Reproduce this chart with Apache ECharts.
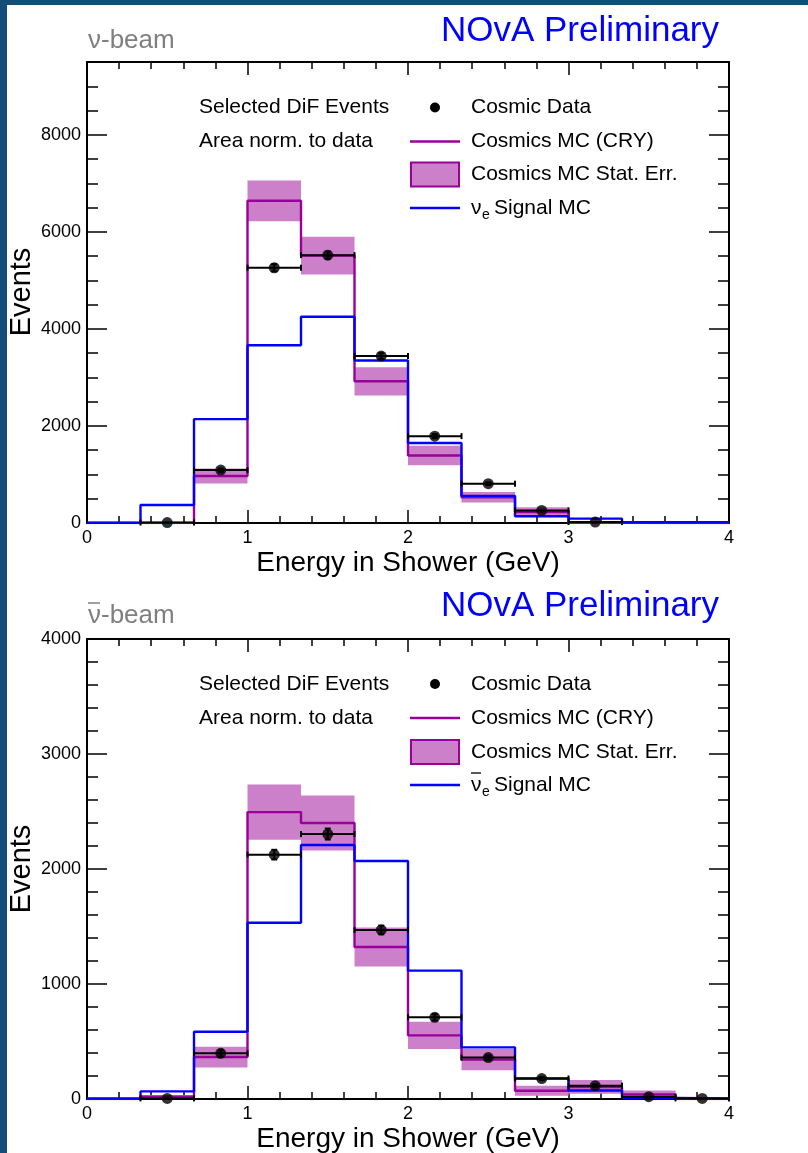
<!DOCTYPE html>
<html>
<head>
<meta charset="utf-8">
<title>NOvA DiF shower energy</title>
<script src="https://cdn.jsdelivr.net/npm/echarts@6/dist/echarts.min.js"></script>
<style>
html, body { margin: 0; padding: 0; }
#chart { width: 808px; height: 1153px; }
</style>
</head>
<body>
<div id="chart"></div>
<script>
// bin edges in GeV (12 bins of 1/3 GeV)
var binEdges = [0, 0.3333, 0.6667, 1, 1.3333, 1.6667, 2, 2.3333, 2.6667, 3, 3.3333, 3.6667, 4];

// nu-beam panel
var nuData       = [null, 10, 1090, 5260, 5520, 3440, 1790, 810, 260, 20, null, null];
var nuDataErr    = [0, 5, 33, 73, 74, 59, 42, 28, 16, 5, 0, 0];
var nuCosmicMC   = [0, 5, 970, 6640, 5510, 2920, 1390, 530, 225, 5, 0, 0];
var nuCosmicErr  = [0, 5, 155, 420, 390, 290, 200, 110, 100, 5, 0, 0];
var nuSignal     = [5, 370, 2140, 3663, 4250, 3350, 1650, 560, 140, 90, 15, 15];

// nubar-beam panel
var nubarData      = [null, 5, 397, 2125, 2304, 1470, 710, 360, 178, 116, 20, 5];
var nubarDataErr   = [0, 5, 30, 42, 48, 38, 27, 19, 14, 11, 5, 3];
var nubarCosmicMC  = [0, 20, 365, 2495, 2400, 1322, 553, 342, 72, 105, 40, 0];
var nubarCosmicErr = [0, 15, 90, 240, 240, 170, 118, 92, 44, 60, 35, 0];
var nubarSignal    = [5, 66, 585, 1533, 2209, 2070, 1116, 449, 178, 74, 10, 5];

var nuYTicks = [0, 2000, 4000, 6000, 8000];
var nubarYTicks = [0, 1000, 2000, 3000, 4000];

var FONT = 'Liberation Sans';
var PURPLE = '#990099';
var BAND = '#cc80c9';
var BLUE = '#0000ff';

function stepPoints(values) {
    var pts = [];
    for (var i = 0; i < values.length; i++) {
        pts.push([binEdges[i], values[i]], [binEdges[i + 1], values[i]]);
    }
    return pts;
}

function bandItems(values, errs) {
    return values.map(function (v, i) {
        return [binEdges[i], binEdges[i + 1], v - errs[i], v + errs[i]];
    });
}

function pointItems(values, errs) {
    var out = [];
    values.forEach(function (v, i) {
        if (v === null) return;
        out.push([(binEdges[i] + binEdges[i + 1]) / 2, v, binEdges[i], binEdges[i + 1], errs[i]]);
    });
    return out;
}

function renderBand(params, api) {
    var p0 = api.coord([api.value(0), api.value(3)]);
    var p1 = api.coord([api.value(1), api.value(2)]);
    return {
        type: 'rect',
        shape: {x: p0[0], y: p0[1], width: p1[0] - p0[0], height: p1[1] - p0[1]},
        style: {fill: BAND}
    };
}

function renderErr(params, api) {
    var l = api.coord([api.value(2), api.value(1)]);
    var r = api.coord([api.value(3), api.value(1)]);
    var c = api.coord([api.value(0), api.value(1)]);
    var top = api.coord([api.value(0), api.value(1) + api.value(4)]);
    var bot = api.coord([api.value(0), api.value(1) - api.value(4)]);
    var st = {stroke: '#000', lineWidth: 2};
    var kids = [
        {type: 'line', shape: {x1: l[0], y1: l[1], x2: r[0], y2: r[1]}, style: st},
        {type: 'line', shape: {x1: l[0], y1: l[1] - 3, x2: l[0], y2: l[1] + 3}, style: st},
        {type: 'line', shape: {x1: r[0], y1: r[1] - 3, x2: r[0], y2: r[1] + 3}, style: st}
    ];
    if (bot[1] - top[1] > 2) {
        kids.push(
            {type: 'line', shape: {x1: c[0], y1: top[1], x2: c[0], y2: bot[1]}, style: st},
            {type: 'line', shape: {x1: c[0] - 3, y1: top[1], x2: c[0] + 3, y2: top[1]}, style: st},
            {type: 'line', shape: {x1: c[0] - 3, y1: bot[1], x2: c[0] + 3, y2: bot[1]}, style: st}
        );
    }
    return {type: 'group', children: kids};
}

function plain(v) { return String(v); }

function xAxisFor(grid, pos) {
    return {
        type: 'value', gridIndex: grid, position: pos, min: 0, max: 4, interval: 1,
        axisLine: {show: true, onZero: false, lineStyle: {color: '#000', width: 2}},
        axisTick: {show: true, inside: true, length: 13, lineStyle: {color: '#000', width: 1.5}},
        minorTick: {show: true, splitNumber: 5, length: 7, lineStyle: {color: '#000', width: 1.5}},
        axisLabel: {show: pos === 'bottom', margin: 6, color: '#000', fontSize: 18, fontFamily: FONT, formatter: plain},
        splitLine: {show: false}
    };
}

function yAxisFor(grid, pos, max, interval, ticks, major, minorSplit) {
    var ax = {
        type: 'value', gridIndex: grid, position: pos, min: 0, max: max, interval: interval,
        axisLine: {show: major, onZero: false, lineStyle: {color: '#000', width: 2}},
        axisTick: {show: true, inside: true, length: major ? 20 : 11, lineStyle: {color: '#000', width: 1.5}},
        axisLabel: {show: major && pos === 'left', margin: 6, color: '#000', fontSize: 18, fontFamily: FONT, formatter: plain},
        splitLine: {show: false}
    };
    if (ticks) {
        ax.axisTick.customValues = ticks;
        ax.axisLabel.customValues = ticks;
    }
    if (minorSplit) {
        ax.minorTick = {show: true, splitNumber: minorSplit, length: 11, lineStyle: {color: '#000', width: 1.5}};
    }
    return ax;
}

function panelSeries(xi, yi, data, dataErr, mc, mcErr, sig) {
    return [
        {type: 'custom', xAxisIndex: xi, yAxisIndex: yi, renderItem: renderBand,
         data: bandItems(mc, mcErr), z: 1, silent: true},
        {type: 'line', xAxisIndex: xi, yAxisIndex: yi, data: stepPoints(mc), symbol: 'none',
         lineStyle: {color: PURPLE, width: 2.4}, z: 2},
        {type: 'line', xAxisIndex: xi, yAxisIndex: yi, data: stepPoints(sig), symbol: 'none',
         lineStyle: {color: BLUE, width: 2.4}, z: 3},
        {type: 'custom', xAxisIndex: xi, yAxisIndex: yi, renderItem: renderErr,
         data: pointItems(data, dataErr), z: 4, silent: true},
        {type: 'scatter', xAxisIndex: xi, yAxisIndex: yi, symbol: 'circle', symbolSize: 11,
         itemStyle: {color: '#000'}, z: 5,
         data: pointItems(data, dataErr).map(function (d) { return [d[0], d[1]]; })}
    ];
}

function txt(text, x, y, size, color, align, extra) {
    var o = {type: 'text', style: {text: text, x: x, y: y, fill: color || '#000',
        fontSize: size, fontFamily: FONT, align: align || 'left', verticalAlign: 'middle'}};
    if (extra) for (var k in extra) o[k] = extra[k];
    return o;
}

function legendBlock(rows, bar) {
    var g = [
        txt('Selected DiF Events', 199, rows[0], 21),
        txt('Area norm. to data', 199, rows[1], 21),
        {type: 'circle', shape: {cx: 435, cy: rows[0], r: 5}, style: {fill: '#000'}},
        txt('Cosmic Data', 471, rows[0], 21),
        {type: 'line', shape: {x1: 410, y1: rows[1], x2: 460, y2: rows[1]}, style: {stroke: PURPLE, lineWidth: 2.5}},
        txt('Cosmics MC (CRY)', 471, rows[1], 21),
        {type: 'rect', shape: {x: 411, y: rows[2] - 12, width: 48, height: 24}, style: {fill: BAND, stroke: PURPLE, lineWidth: 2}},
        txt('Cosmics MC Stat. Err.', 471, rows[2], 21),
        {type: 'line', shape: {x1: 410, y1: rows[3], x2: 460, y2: rows[3]}, style: {stroke: BLUE, lineWidth: 2.5}},
        txt('\u03bd', 471, rows[3], 21),
        txt('e', 482, rows[3] + 7, 14),
        txt('Signal MC', 494, rows[3], 21)
    ];
    if (bar) {
        g.push({type: 'line', shape: {x1: 471, y1: rows[3] - 12, x2: 481, y2: rows[3] - 12}, style: {stroke: '#000', lineWidth: 1.3}});
    }
    return g;
}

var graphics = [
    {type: 'rect', shape: {x: 7, y: 5, width: 801, height: 1148}, style: {fill: '#fff'}, z: -10, silent: true},
    txt('\u03bd-beam', 88, 41, 26, '#7f7f7f'),
    txt('NOvA Preliminary', 719, 31, 35, BLUE, 'right'),
    txt('\u03bd-beam', 88, 616, 26, '#7f7f7f'),
    {type: 'line', shape: {x1: 88, y1: 603, x2: 100, y2: 603}, style: {stroke: '#7f7f7f', lineWidth: 1.5}},
    txt('NOvA Preliminary', 719, 606, 35, BLUE, 'right'),
    txt('Events', 22, 292, 29, '#000', 'center', {rotation: Math.PI / 2}),
    txt('Events', 22, 869, 29, '#000', 'center', {rotation: Math.PI / 2}),
    txt('Energy in Shower (GeV)', 408, 563, 28, '#000', 'center'),
    txt('Energy in Shower (GeV)', 408, 1139, 28, '#000', 'center')
].concat(legendBlock([107.5, 141.5, 174.5, 208], false))
 .concat(legendBlock([684, 718, 752, 785], true));

// rotated texts: rotate around their own anchor
graphics.forEach(function (g) {
    if (g.rotation) {
        g.x = g.style.x; g.y = g.style.y;
        g.style.x = 0; g.style.y = 0;
    }
});

var option = {
    backgroundColor: '#124e78',
    animation: false,
    grid: [
        {left: 87, top: 62, width: 642, height: 461},
        {left: 87, top: 639, width: 642, height: 460}
    ],
    xAxis: [
        xAxisFor(0, 'bottom'), xAxisFor(0, 'top'),
        xAxisFor(1, 'bottom'), xAxisFor(1, 'top')
    ],
    yAxis: [
        yAxisFor(0, 'left', 9500, 2000, nuYTicks, true),
        yAxisFor(0, 'left', 9500, 500, null, false),
        yAxisFor(0, 'right', 9500, 2000, nuYTicks, true),
        yAxisFor(0, 'right', 9500, 500, null, false),
        yAxisFor(1, 'left', 4000, 1000, nubarYTicks, true, 5),
        yAxisFor(1, 'right', 4000, 1000, nubarYTicks, true, 5)
    ],
    graphic: graphics,
    series: panelSeries(0, 0, nuData, nuDataErr, nuCosmicMC, nuCosmicErr, nuSignal)
        .concat(panelSeries(2, 4, nubarData, nubarDataErr, nubarCosmicMC, nubarCosmicErr, nubarSignal))
};

var chart = echarts.init(document.getElementById('chart'));
chart.setOption(option);
</script>
</body>
</html>
